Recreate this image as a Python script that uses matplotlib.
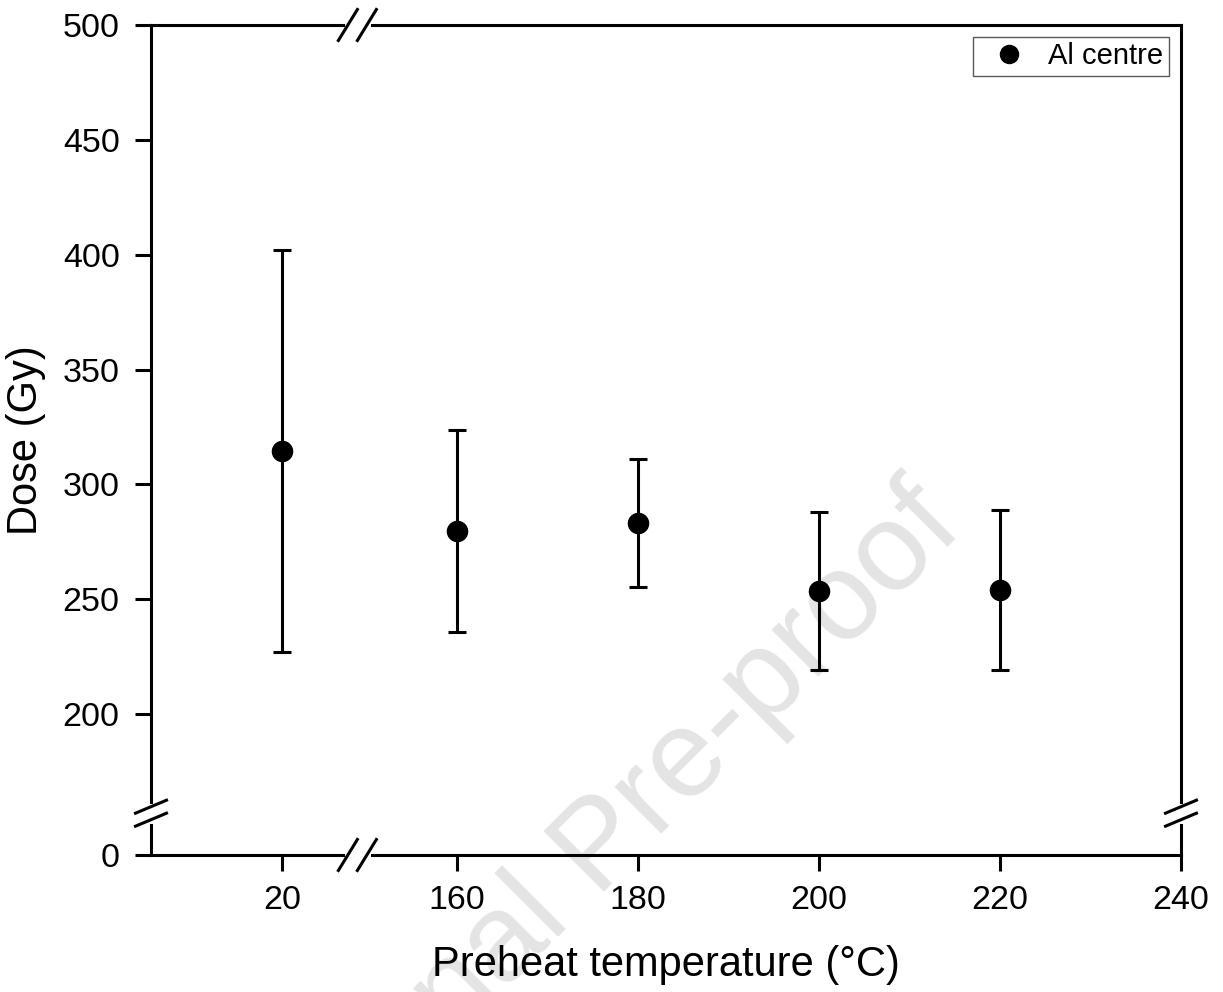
import matplotlib
matplotlib.use("Agg")
import matplotlib.pyplot as plt
from matplotlib.lines import Line2D
import numpy as np

temps = [20, 160, 180, 200, 220]
dose = [314.5, 279.8, 283.2, 253.7, 254.0]
dose_err = [87.4, 44.1, 28.0, 34.5, 34.8]
x_ticks = [20, 160, 180, 200, 220, 240]
y_ticks = [0, 200, 250, 300, 350, 400, 450, 500]

plt.rcParams['font.family'] = ['Liberation Sans', 'DejaVu Sans']

# broken axes done with piecewise scales
XGAP = 120.7
YGAP = 138.7

def xfwd(x):
    x = np.asarray(x, dtype=float)
    return np.where(x < 90, x, x - XGAP)

def xinv(t):
    t = np.asarray(t, dtype=float)
    return np.where(t < 28.3, t, t + XGAP)

def yfwd(y):
    y = np.asarray(y, dtype=float)
    return np.where(y < 80, y + YGAP, y)

def yinv(t):
    t = np.asarray(t, dtype=float)
    return np.where(t < 156.9, t - YGAP, t)

fig = plt.figure(figsize=(12.23, 9.92), dpi=100)
ax = fig.add_axes([151/1223, 1-855/992, 1030/1223, 830/992])
ax.set_facecolor('none')

fig.text(0.492, 0.144, 'Journal Pre-proof', rotation=45, rotation_mode='anchor',
         ha='center', va='center', fontsize=90, color='#e4e4e4', zorder=-1)

ax.set_xscale('function', functions=(xfwd, xinv))
ax.set_yscale('function', functions=(yfwd, yinv))

ax.errorbar(temps, dose, yerr=dose_err, fmt='o', color='black', ms=14.5,
            elinewidth=2.2, capsize=6.5, capthick=2.2, zorder=4)

ax.set_xlim(5.5, 240)
ax.set_ylim(0, 500)
ax.set_xticks(x_ticks)
ax.set_yticks(y_ticks)
ax.minorticks_off()

for s in ax.spines.values():
    s.set_linewidth(2.2)
ax.tick_params(direction='out', length=11.5, width=2.2, labelsize=24.5, top=False, right=False)
ax.tick_params(axis='x', pad=10)
ax.tick_params(axis='y', pad=11)

ax.set_xlabel('Preheat temperature (\u00b0C)', fontsize=30, labelpad=21)
ax.set_ylabel('Dose (Gy)', fontsize=30, labelpad=12)

handle = Line2D([], [], ls='none', marker='o', color='black', ms=13)
leg = ax.legend([handle], ['Al centre'], loc='upper right', fontsize=21, frameon=True,
                fancybox=False, borderaxespad=0.4, handletextpad=0.3, borderpad=0.2,
                handlelength=2.1)
leg.get_frame().set_edgecolor('#303030')
leg.get_frame().set_linewidth(1.0)

# break marks
W, H = 1030.0, 830.0

def xbreak(yf):
    bx = (28.3 - 5.5) / (240 - XGAP - 5.5)
    ax.plot([bx - 9.5/W, bx + 9.5/W], [yf, yf], color='white', lw=5,
            transform=ax.transAxes, clip_on=False, zorder=5)
    for c in (bx - 9.5/W, bx + 9.5/W):
        ax.plot([c - 9.5/W, c + 9.5/W], [yf - 15.5/H, yf + 15.5/H], color='black',
                lw=2.2, transform=ax.transAxes, clip_on=False, zorder=6)

def ybreak(xf):
    by = (156.9 - YGAP) / (500 - YGAP)
    ax.plot([xf, xf], [by - 6.5/H, by + 6.5/H], color='white', lw=5,
            transform=ax.transAxes, clip_on=False, zorder=5)
    for c in (by - 6.5/H, by + 6.5/H):
        ax.plot([xf - 15.5/W, xf + 15.5/W], [c - 6.5/H, c + 6.5/H], color='black',
                lw=2.2, transform=ax.transAxes, clip_on=False, zorder=6)

xbreak(0)
xbreak(1)
ybreak(0)
ybreak(1)

fig.savefig('out.png', dpi=100)
